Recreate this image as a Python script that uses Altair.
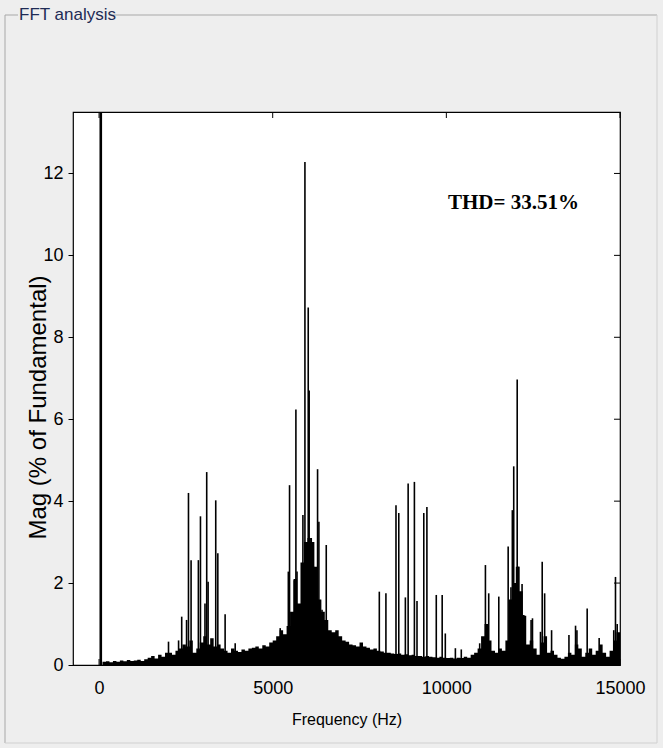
import altair as alt
import pandas as pd

# ---- data ----
fund_freq = [50]
fund_mag = [100.0]

peak_freq = [2000, 2290, 2380, 2520, 2575, 2650, 2860, 2920, 3050, 3100, 3140, 3360, 3420, 3630, 3920,
             5216, 5450, 5485, 5620, 5668, 5700, 5760, 5870, 5928, 5985, 6023, 6050, 6110, 6177, 6292, 6330, 6370, 6420, 6542,
             8070, 8260, 8550, 8630, 8820, 8900, 9080, 9155, 9350, 9440, 9710, 9880, 9970, 10260, 10430, 10960,
             11125, 11220, 11510, 11780, 11860, 11900, 11940, 12040, 12085, 12180, 12230, 12440, 12480, 12710, 12760,
             12830, 13030, 13530, 13720, 13760, 14055, 14400, 14820, 14870, 14920]
peak_mag = [0.57, 0.6, 1.18, 1.1, 4.2, 2.56, 2.56, 3.63, 1.5, 4.71, 2.03, 4.02, 2.73, 1.24, 0.53,
            0.9, 2.28, 4.39, 2.07, 6.24, 2.28, 1.26, 3.66, 12.28, 2.8, 8.73, 6.7, 3.1, 2.4, 4.78, 3.5, 1.58, 1.35, 2.93,
            1.79, 1.75, 3.9, 3.71, 1.65, 4.43, 4.47, 1.56, 3.71, 3.86, 1.71, 1.71, 0.77, 0.41, 0.38, 0.53,
            2.44, 1.75, 1.67, 2.89, 1.9, 3.78, 4.85, 6.97, 2.4, 1.98, 1.22, 1.1, 1.14, 0.81, 2.52,
            1.75, 0.85, 0.73, 0.96, 0.85, 1.38, 0.66, 0.85, 2.15, 1.0]

floor_freq = list(range(100, 15001, 100))
floor_mag = [
    0.08, 0.09, 0.07, 0.10, 0.08, 0.11, 0.09, 0.12, 0.10,            # 100-900
    0.11, 0.13, 0.10, 0.14, 0.18, 0.22, 0.16, 0.25, 0.20, 0.30,      # 1000-1900
    0.30, 0.25, 0.35, 0.40, 0.50, 0.45, 0.60, 0.30, 0.40, 0.55,      # 2000-2900
    0.70, 0.50, 0.65, 0.45, 0.50, 0.40, 0.35, 0.30, 0.40, 0.35,      # 3000-3900
    0.32, 0.38, 0.35, 0.40, 0.42, 0.45, 0.40, 0.48, 0.45, 0.55,      # 4000-4900
    0.60, 0.70, 0.85, 0.75, 0.95, 1.30, 2.10, 1.50, 2.50, 3.00,      # 5000-5900
    3.10, 3.00, 2.40, 1.60, 1.30, 1.10, 0.85, 0.80, 0.85, 0.70,      # 6000-6900
    0.60, 0.57, 0.50, 0.48, 0.45, 0.55, 0.45, 0.42, 0.38, 0.40,      # 7000-7900
    0.35, 0.33, 0.30, 0.30, 0.28, 0.27, 0.28, 0.25, 0.26, 0.24,      # 8000-8900
    0.25, 0.22, 0.22, 0.20, 0.22, 0.20, 0.19, 0.18, 0.20, 0.18,      # 9000-9900
    0.17, 0.18, 0.16, 0.18, 0.17, 0.20, 0.18, 0.25, 0.30, 0.40,      # 10000-10900
    0.70, 1.00, 0.60, 0.35, 0.30, 0.40, 0.35, 0.60, 1.60, 2.00,      # 11000-11900
    2.40, 1.80, 1.20, 0.50, 0.60, 0.40, 0.25, 0.55, 0.70, 0.30,      # 12000-12900
    0.35, 0.25, 0.18, 0.15, 0.20, 0.30, 0.25, 0.50, 0.40, 0.20,      # 13000-13900
    0.30, 0.40, 0.25, 0.35, 0.50, 0.30, 0.20, 0.35, 0.60, 0.80,      # 14000-14900
    0.80,                                                            # 15000
]

x_ticks = [0, 5000, 10000, 15000]
y_ticks = [0, 2, 4, 6, 8, 10, 12]
thd_text = "THD= 33.51%"

# ---- layout ----
W, H = 547, 553
SANS = "Liberation Sans, Arial, sans-serif"
xs = alt.Scale(domain=[-750, 15000], nice=False, zero=False)
ys = alt.Scale(domain=[0, 13.5], nice=False, zero=True)

xaxis = alt.Axis(
    values=x_ticks, format="d", title="Frequency (Hz)", grid=False, ticks=False, domain=False,
    labelFont=SANS, labelFontSize=18, labelColor="black", labelPadding=14,
    titleFont=SANS, titleFontSize=16, titleFontWeight="normal", titleColor="black", titlePadding=14,
    labelFlush=False)
yaxis = alt.Axis(
    values=y_ticks, format="d", title="Mag (% of Fundamental)", grid=False, ticks=True, tickSize=5,
    tickColor="black", domain=False, labelFont=SANS, labelFontSize=18, labelColor="black",
    labelPadding=5, titleFont=SANS, titleFontSize=24,
    titleFontWeight="normal", titleColor="black", titleX=-28, titleY=295,
    titleBaseline="alphabetic", titleAlign="center", titleAngle=270)

floor_df = pd.DataFrame({"f": floor_freq, "mag": floor_mag})
peak_df = pd.DataFrame({"f": peak_freq, "mag": peak_mag})
fund_df = pd.DataFrame({"f": fund_freq, "mag": fund_mag})
xt_df = pd.DataFrame({"f": x_ticks})
yt_df = pd.DataFrame({"mag": y_ticks})
one = alt.Data(values=[{"a": 1}])

floor = alt.Chart(floor_df).mark_area(interpolate="step-after", color="black", clip=True).encode(
    x=alt.X("f:Q", scale=xs, axis=xaxis),
    y=alt.Y("mag:Q", scale=ys, axis=yaxis),
)

peaks = alt.Chart(peak_df).mark_rule(color="black", strokeWidth=1.6, clip=True).encode(
    x=alt.X("f:Q", scale=xs, axis=xaxis),
    y=alt.Y("mag:Q", scale=ys, axis=yaxis),
    y2=alt.value(H),
)

fund = alt.Chart(fund_df).mark_rule(color="black", strokeWidth=2.6, clip=True).encode(
    x=alt.X("f:Q", scale=xs, axis=xaxis),
    y=alt.Y("mag:Q", scale=ys, axis=yaxis),
    y2=alt.value(H),
)

top_ticks = alt.Chart(xt_df).mark_rule(color="black", strokeWidth=1).encode(
    x=alt.X("f:Q", scale=xs, axis=xaxis), y=alt.value(0), y2=alt.value(6))
bot_ticks = alt.Chart(xt_df).mark_rule(color="black", strokeWidth=1).encode(
    x=alt.X("f:Q", scale=xs, axis=xaxis), y=alt.value(H - 6), y2=alt.value(H))
right_ticks = alt.Chart(yt_df).mark_rule(color="black", strokeWidth=1).encode(
    y=alt.Y("mag:Q", scale=ys, axis=yaxis), x=alt.value(W - 6), x2=alt.value(W))

thd = alt.Chart(one).mark_text(
    text=thd_text, align="left", baseline="middle", font="Liberation Serif, DejaVu Serif, serif",
    fontSize=21, fontWeight="bold", color="black").encode(
    x=alt.value(375), y=alt.value(91))

# panel frame (uipanel look)
GRAY = "#A8A8A8"
frame = [
    alt.Chart(one).mark_rule(color=GRAY, strokeWidth=1).encode(
        x=alt.value(-68), x2=alt.value(-55), y=alt.value(-97)),
    alt.Chart(one).mark_rule(color=GRAY, strokeWidth=1).encode(
        x=alt.value(36), x2=alt.value(584), y=alt.value(-97)),
    alt.Chart(one).mark_rule(color=GRAY, strokeWidth=1).encode(
        x=alt.value(-68), y=alt.value(-97), y2=alt.value(631)),
    alt.Chart(one).mark_rule(color="#D0D0D0", strokeWidth=1).encode(
        x=alt.value(584), y=alt.value(-97), y2=alt.value(631)),
    alt.Chart(one).mark_rule(color="#D0D0D0", strokeWidth=1).encode(
        x=alt.value(-68), x2=alt.value(584), y=alt.value(631)),
    alt.Chart(one).mark_text(
        text="FFT analysis", align="left", baseline="middle", font=SANS, fontSize=17,
        color="#1E2B55").encode(x=alt.value(-54), y=alt.value(-97)),
]

chart = alt.layer(floor, peaks, fund, top_ticks, bot_ticks, right_ticks, thd, *frame).properties(
    width=W, height=H, background="#EEEEEE",
    padding={"left": 73, "top": 112, "right": 43, "bottom": 83},
    autosize=alt.AutoSizeParams(type="none"),
).configure_view(fill="white", stroke="black", strokeWidth=1.2)

chart.save("out.html", embed_options={"renderer": "svg", "actions": False})
